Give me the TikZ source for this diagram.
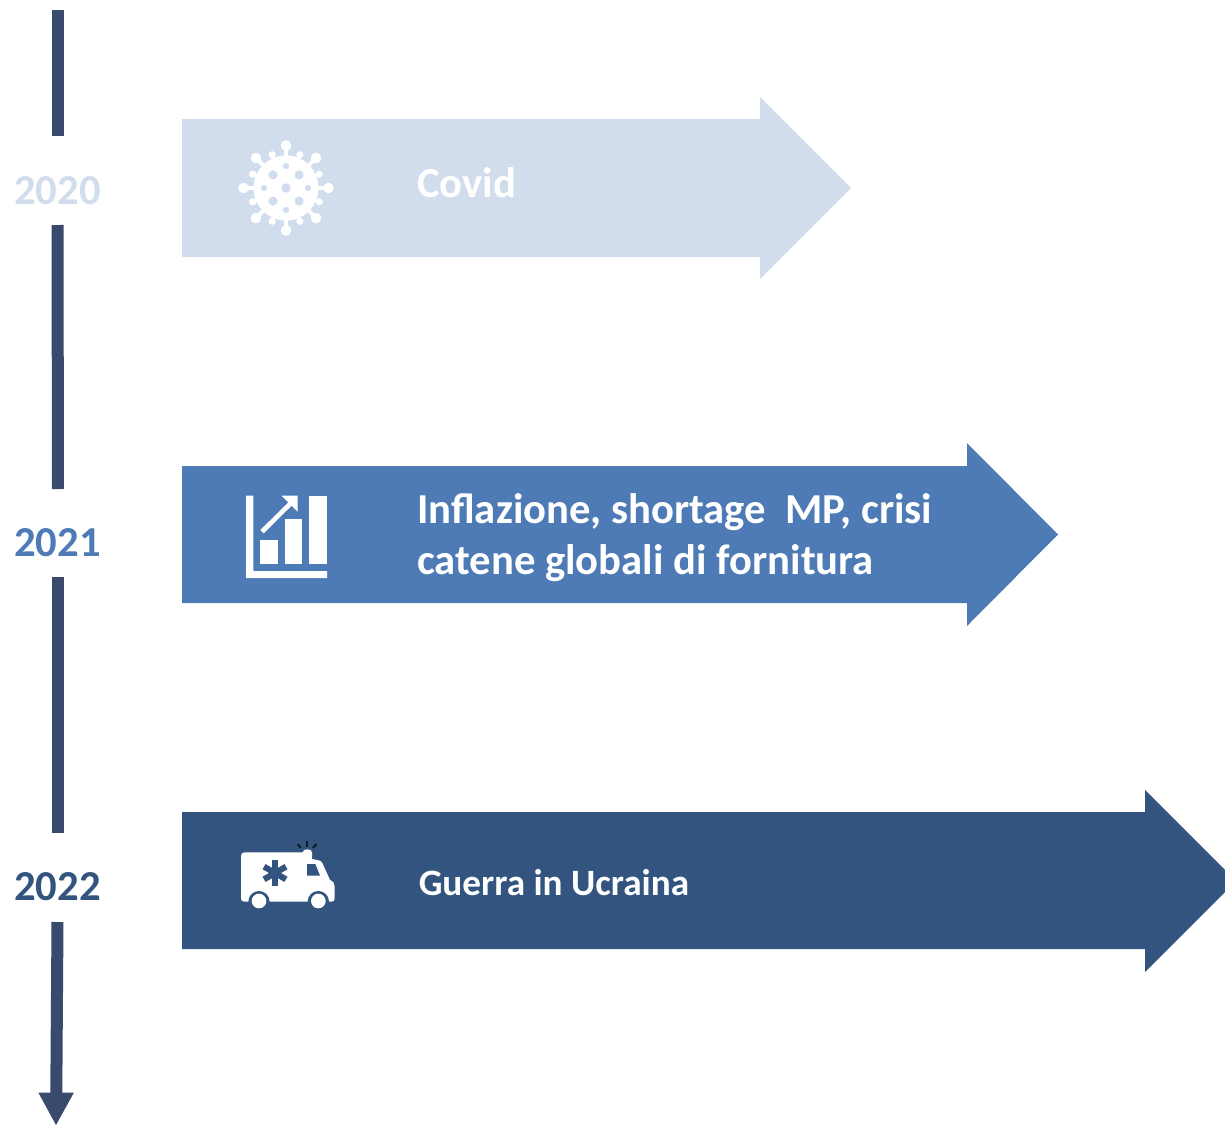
\documentclass[tikz,border=0pt]{standalone}
\usepackage{fontspec}
\setmainfont{Carlito}
\definecolor{axisc}{HTML}{3A4A6C}
\definecolor{lightc}{HTML}{D1DDEC}
\definecolor{midc}{HTML}{4E7BB6}
\definecolor{darkc}{HTML}{32547E}
\tikzset{
  yearlabel/.style={font=\bfseries\fontsize{32}{38}\selectfont,inner sep=0pt,anchor=center},
  bandtext/.style={font=\bfseries\fontsize{32}{38.4}\selectfont,text=white,inner sep=0pt,anchor=west,align=left},
  axisseg/.style={draw=axisc,line width=9pt},
}
\begin{document}
\begin{tikzpicture}[x=0.75pt,y=-0.75pt]
\useasboundingbox (0,0) rectangle (1225,1125);
\clip (0,0) rectangle (1225,1125);
% band arrows
\fill[lightc] (182,119) -- (760,119) -- (760,97) -- (851,188) -- (760,279) -- (760,257) -- (182,257) -- cycle;
\fill[midc] (182,466) -- (967,466) -- (967,443) -- (1058,534.5) -- (967,626) -- (967,603) -- (182,603) -- cycle;
\fill[darkc] (182,812) -- (1145,812) -- (1145,790) -- (1236,881) -- (1145,972) -- (1145,949) -- (182,949) -- cycle;
% years
\node[yearlabel,text=lightc] (y2020) at (57.5,191) {2020};
\node[yearlabel,text=midc] (y2021) at (57.5,543) {2021};
\node[yearlabel,text=darkc] (y2022) at (57.5,887) {2022};
% axis
\coordinate (a0) at (58,10);
\coordinate (a1) at (58,136);
\coordinate (b0) at (57.5,225);
\coordinate (b1) at (58,489);
\coordinate (c0) at (58,577);
\coordinate (c1) at (58,833);
\coordinate (d0) at (57.5,922);
\coordinate (d1) at (56.3,1093);
\coordinate (tip) at (56,1125);
\draw[axisseg] (a0) -- (a1);
\draw[axisseg] (b0) -- (b1);
\draw[axisseg] (c0) -- (c1);
\draw[axisseg] (d0) -- (d1);
\fill[axisc] (38.3,1092.5) -- (74,1092.5) -- (tip) -- cycle;
% texts
\node[bandtext] (t1) at (417,183) {Covid};
\node[bandtext] (t2) at (417,538) {Inflazione, shortage\ \ MP, crisi\\catene globali di fornitura};
\node[bandtext,font=\bfseries\fontsize{27.9}{33}\selectfont] (t3) at (418.5,882.5) {Guerra in Ucraina};
% virus icon
\begin{scope}[shift={(286,188)}]
  \fill[white] (0,0) circle (32.5);
  \foreach \a in {0,45,...,315}{
    \draw[white,line width=3pt] (0,0) -- (\a:42);
    \fill[white] (\a:42.5) circle (5.3);
  }
  \foreach \a in {22.5,67.5,...,337.5}{
    \draw[white,line width=2.4pt] (0,0) -- (\a:36);
    \fill[white] (\a:36) circle (3.6);
  }
  \fill[lightc] (0,0) circle (4.7);
  \foreach \a in {45,135,225,315} \fill[lightc] (\a:18.5) circle (4.6);
  \foreach \a in {0,90,180,270} \fill[lightc] (\a:22) circle (3.1);
\end{scope}
% chart icon
\fill[white] (246,495.7) -- (253.3,495.7) -- (253.3,571) -- (327,571) -- (327,578) -- (246,578) -- cycle;
\fill[white] (260,540) rectangle (277.7,563.7);
\fill[white] (285,519) rectangle (302.3,563.7);
\fill[white] (309.3,495.7) rectangle (327,563.7);
\draw[white,line width=3.5pt] (262,531.7) -- (292,502);
\fill[white] (281.7,495.7) -- (297.7,495.7) -- (297.7,511.7) -- cycle;
% ambulance icon
\begin{scope}[shift={(230,835)},x=0.25pt,y=-0.25pt]
  \fill[white] (33,62) .. controls (33,55) and (38,52) .. (45,52) -- (218,52)
    .. controls (218,40) and (246,40) .. (246,52) -- (246,72) -- (262,75)
    .. controls (270,76) and (274,78) .. (277,84)
    -- (300,135) .. controls (310,140) and (314,145) .. (314,155)
    -- (314,190) .. controls (314,198) and (310,200) .. (304,200)
    -- (42,200) .. controls (36,200) and (33,196) .. (33,190) -- cycle;
  \fill[darkc] (87,200) circle (32);
  \fill[darkc] (265,200) circle (32);
  \fill[darkc] (30,202) rectangle (320,240);
  \fill[white] (87,198) circle (22);
  \fill[white] (265,198) circle (22);
  \fill[darkc] (231,87) -- (256,87) -- (270,122) -- (231,122) -- cycle;
  \foreach \a in {90,150,210}
    \draw[darkc,line width=4.5pt] (135,114) ++(\a:38) -- ++(\a:-76);
  \draw[black!70!darkc,line width=1.4pt] (230,18) -- (230,36);
  \draw[black!70!darkc,line width=1.4pt] (203,27) -- (213,39);
  \draw[black!70!darkc,line width=1.4pt] (260,27) -- (248,39);
\end{scope}
\end{tikzpicture}
\end{document}
